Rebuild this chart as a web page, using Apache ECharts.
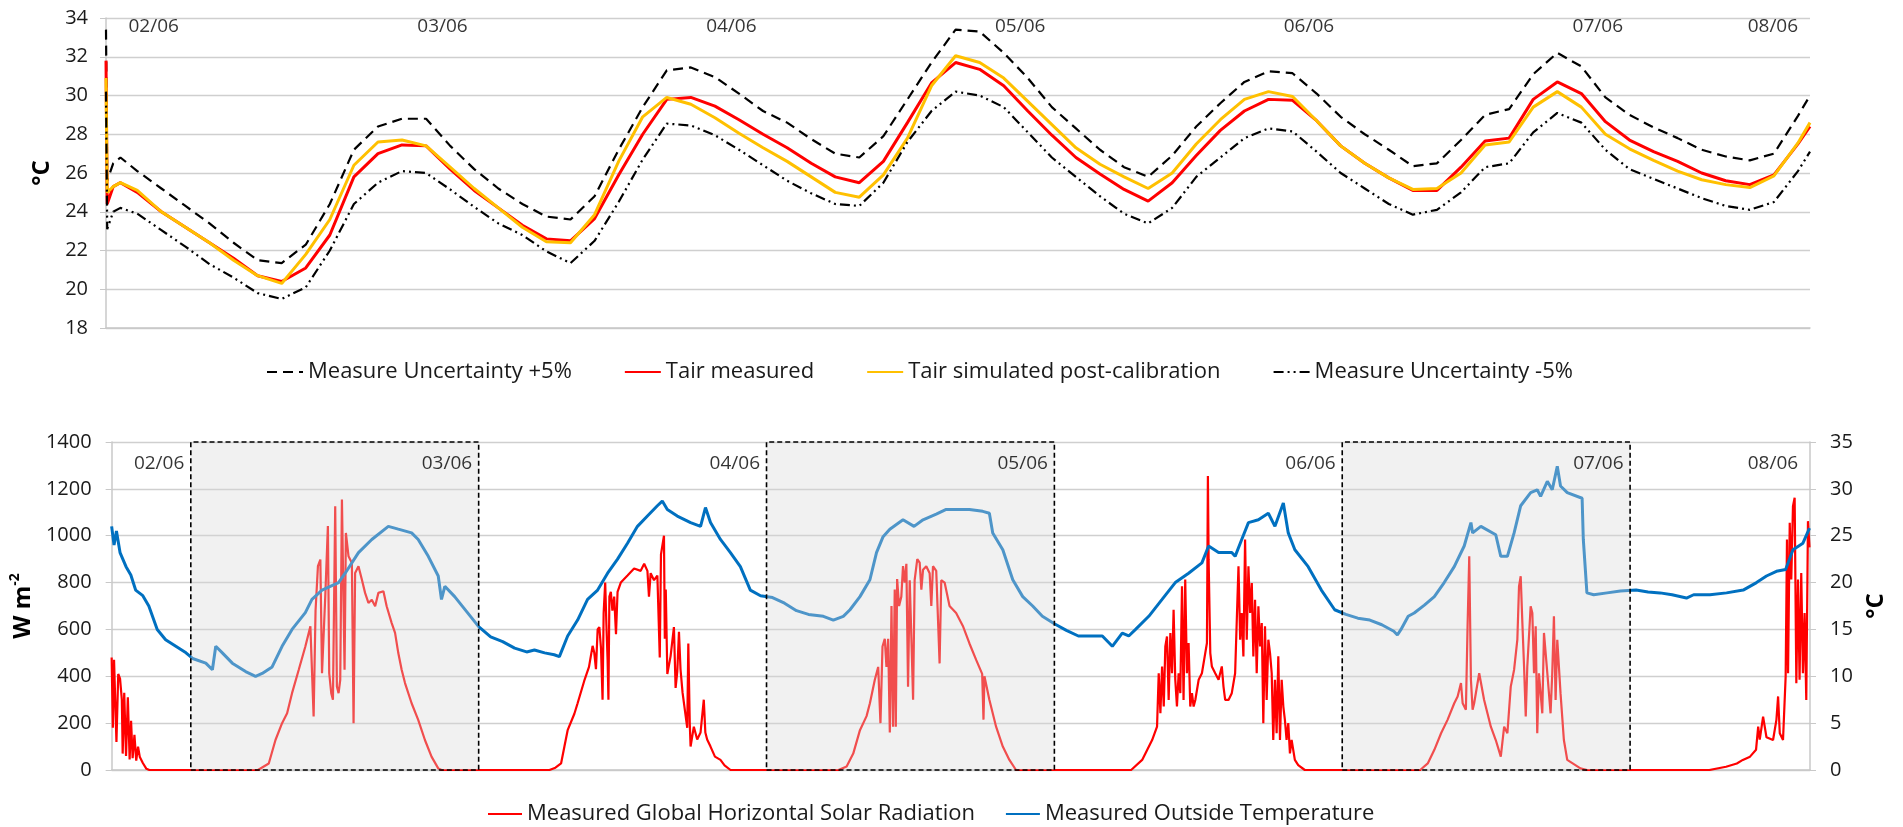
<!DOCTYPE html>
<html>
<head>
<meta charset="utf-8">
<title>Tair calibration and outside conditions</title>
<script src="https://cdn.jsdelivr.net/npm/echarts@6/dist/echarts.min.js"></script>
<style>
  html, body { margin: 0; padding: 0; background: #fff; }
  #container { width: 1903px; height: 827px; }
</style>
</head>
<body>
<div id="container"></div>
<script>
// time in hours, 0 = midnight between 01/06 and 02/06
var tHours = [-6.6, -6.5, -6, -5.4, -4, -2,
  0, 2, 4, 6, 8, 10, 12, 14, 16, 18, 20, 22,
  24, 26, 28, 30, 32, 34, 36, 38, 40, 42, 44, 46,
  48, 50, 52, 54, 56, 58, 60, 62, 64, 66, 68, 70,
  72, 74, 76, 78, 80, 82, 84, 86, 88, 90, 92, 94,
  96, 98, 100, 102, 104, 106, 108, 110, 112, 114, 116, 118,
  120, 122, 124, 126, 128, 130, 132, 134, 135];

var tairMeasured = [31.8, 24.4, 25.3, 25.5, 25.0, 24.0,
  23.2, 22.4, 21.6, 20.7, 20.4, 21.1, 22.8, 25.8, 27.0, 27.45, 27.4, 26.2,
  25.1, 24.2, 23.3, 22.6, 22.5, 23.65, 25.9, 28.0, 29.8, 29.9, 29.45, 28.75,
  28.0, 27.3, 26.5, 25.8, 25.5, 26.6, 28.6, 30.65, 31.7, 31.35, 30.5, 29.2,
  27.95, 26.8, 25.95, 25.15, 24.55, 25.5, 26.9, 28.2, 29.2, 29.8, 29.75, 28.7,
  27.4, 26.5, 25.75, 25.1, 25.1, 26.3, 27.65, 27.8, 29.8, 30.7, 30.1, 28.65,
  27.7, 27.1, 26.6, 26.0, 25.6, 25.4, 25.9, 27.5, 28.4];

var tairSimulated = [30.9, 25.0, 25.3, 25.5, 25.1, 24.0,
  23.2, 22.4, 21.5, 20.7, 20.3, 21.8, 23.6, 26.4, 27.6, 27.7, 27.4, 26.3,
  25.2, 24.2, 23.2, 22.45, 22.4, 23.85, 26.6, 28.9, 29.9, 29.55, 28.85, 28.05,
  27.3, 26.6, 25.8, 25.0, 24.75, 25.9, 27.8, 30.5, 32.05, 31.7, 30.9, 29.7,
  28.5, 27.3, 26.45, 25.8, 25.2, 26.0, 27.5, 28.75, 29.8, 30.2, 29.95, 28.7,
  27.4, 26.5, 25.75, 25.15, 25.2, 26.0, 27.45, 27.6, 29.4, 30.2, 29.4, 28.0,
  27.25, 26.65, 26.1, 25.65, 25.4, 25.25, 25.85, 27.55, 28.6];

var uncertaintyPlus = [33.4, 25.6, 26.5, 26.8, 26.1, 25.2,
  24.3, 23.4, 22.4, 21.5, 21.35, 22.3, 24.4, 27.2, 28.4, 28.8, 28.8, 27.4,
  26.2, 25.2, 24.4, 23.75, 23.6, 24.8, 27.2, 29.4, 31.3, 31.45, 30.95, 30.1,
  29.2, 28.6, 27.75, 27.0, 26.8, 27.9, 29.8, 31.7, 33.4, 33.3, 32.2, 30.9,
  29.4, 28.3, 27.2, 26.3, 25.8, 26.9, 28.4, 29.6, 30.7, 31.25, 31.15, 30.1,
  28.9, 28.0, 27.2, 26.35, 26.5, 27.7, 29.0, 29.3, 31.1, 32.2, 31.5, 29.9,
  29.0, 28.35, 27.8, 27.2, 26.85, 26.65, 27.0, 28.95, 30.0];

var uncertaintyMinus = [30.2, 23.1, 24.0, 24.2, 23.9, 23.05,
  22.2, 21.3, 20.6, 19.8, 19.5, 20.1, 22.0, 24.4, 25.5, 26.1, 26.0, 25.15,
  24.25, 23.4, 22.8, 21.95, 21.35, 22.5, 24.5, 26.7, 28.55, 28.45, 27.95, 27.2,
  26.4, 25.6, 24.95, 24.4, 24.3, 25.5, 27.6, 29.2, 30.2, 30.0, 29.4, 28.1,
  26.8, 25.8, 24.8, 23.9, 23.4, 24.2, 25.8, 26.8, 27.8, 28.3, 28.15, 27.1,
  26.0, 25.2, 24.4, 23.85, 24.1, 25.0, 26.3, 26.5, 28.1, 29.1, 28.6, 27.2,
  26.2, 25.7, 25.2, 24.7, 24.3, 24.1, 24.5, 26.1, 27.1];

// [hour, W m-2]
var solarRadiation = [
  [-6.6, 480], [-6.5, 180], [-6.4, 470], [-6.2, 120], [-6.05, 410], [-5.9, 390], [-5.75, 300], [-5.68, 70],
  [-5.55, 330], [-5.4, 60], [-5.25, 310], [-5.1, 45], [-4.98, 210], [-4.85, 50], [-4.7, 150], [-4.55, 40],
  [-4.4, 100], [-4.25, 55], [-4.0, 30], [-3.7, 5], [-3.45, 0],
  [5.6, 0], [6.5, 28], [7.06, 128], [7.61, 200], [8.03, 242], [8.44, 328], [9.0, 428], [9.55, 527],
  [9.97, 613], [10.24, 228], [10.4, 680], [10.6, 870], [10.8, 898], [10.94, 413], [11.21, 740], [11.43, 1041],
  [11.54, 413], [11.71, 328], [11.85, 300], [12.04, 1126], [12.18, 356], [12.32, 328], [12.46, 385], [12.6, 1155],
  [12.74, 1162], [12.82, 428], [12.93, 1012], [13.15, 912], [13.43, 884], [13.57, 200], [13.7, 841], [13.98, 870],
  [14.26, 813], [14.53, 756], [14.81, 713], [15.09, 727], [15.37, 699], [15.64, 756], [16.06, 763], [16.33, 699],
  [16.75, 627], [17.03, 585], [17.3, 499], [17.58, 428], [17.86, 371], [18.41, 285], [18.96, 214], [19.52, 128],
  [20.07, 57], [20.63, 7], [20.9, 0],
  [29.9, 0], [30.4, 10], [30.87, 28], [31.15, 100], [31.42, 170], [31.98, 240], [32.25, 285], [32.8, 380],
  [33.2, 440], [33.5, 530], [33.64, 500], [33.78, 430], [33.92, 600], [34.06, 610], [34.2, 520], [34.33, 300],
  [34.42, 670], [34.55, 800], [34.65, 620], [34.75, 470], [34.82, 300], [34.9, 740], [35.02, 760], [35.15, 680],
  [35.3, 740], [35.45, 580], [35.58, 760], [35.85, 800], [36.41, 830], [36.96, 860], [37.51, 850], [37.8, 880],
  [38.07, 850], [38.2, 740], [38.34, 840], [38.62, 810], [38.9, 830], [39.1, 480], [39.2, 920], [39.45, 1000],
  [39.52, 560], [39.6, 770], [39.73, 410], [40.0, 485], [40.28, 610], [40.42, 350], [40.56, 420], [40.7, 590],
  [40.83, 430], [41.0, 330], [41.39, 180], [41.48, 540], [41.6, 200], [41.67, 100], [41.94, 185], [42.22, 130],
  [42.5, 160], [42.77, 300], [42.9, 160], [43.05, 130], [43.33, 100], [43.7, 57], [44.16, 43], [44.5, 20], [45.0, 0],
  [54.0, 0], [54.68, 15], [55.23, 70], [55.79, 170], [56.34, 230], [56.62, 285], [57.03, 385], [57.31, 440],
  [57.5, 200], [57.67, 527], [57.86, 560], [58.0, 440], [58.14, 560], [58.28, 160], [58.42, 700], [58.55, 185],
  [58.69, 770], [58.78, 185], [58.89, 815], [59.05, 700], [59.24, 740], [59.38, 870], [59.52, 800], [59.66, 880],
  [59.8, 355], [59.94, 810], [60.08, 560], [60.22, 300], [60.35, 810], [60.57, 900], [60.77, 885], [60.91, 770],
  [61.05, 855], [61.32, 870], [61.6, 840], [61.74, 700], [61.88, 870], [62.15, 850], [62.3, 855], [62.43, 455],
  [62.57, 810], [62.85, 800], [63.26, 700], [63.81, 670], [64.37, 615], [64.92, 540], [65.48, 470], [65.98, 410],
  [66.09, 215], [66.17, 400], [66.58, 300], [67.14, 185], [67.7, 100], [68.25, 43], [68.8, 0],
  [78.4, 0], [79.32, 43], [80.15, 128], [80.56, 185], [80.7, 413], [80.84, 242], [80.98, 442], [81.12, 271],
  [81.25, 527], [81.39, 570], [81.53, 299], [81.67, 585], [81.81, 413], [81.94, 684], [82.08, 385], [82.22, 271],
  [82.36, 413], [82.5, 328], [82.64, 784], [82.77, 299], [82.91, 813], [83.05, 413], [83.19, 542], [83.33, 271],
  [83.47, 328], [83.61, 271], [83.75, 299], [84.03, 385], [84.3, 413], [84.58, 499], [84.72, 542], [84.8, 1255],
  [84.86, 900], [85.0, 499], [85.13, 442], [85.41, 413], [85.69, 385], [85.96, 442], [86.1, 356], [86.24, 299],
  [86.52, 299], [86.79, 328], [87.07, 413], [87.21, 642], [87.35, 870], [87.49, 556], [87.62, 670], [87.76, 485],
  [87.9, 984], [88.04, 556], [88.18, 870], [88.32, 670], [88.46, 798], [88.59, 485], [88.73, 727], [88.87, 413],
  [89.01, 699], [89.15, 527], [89.29, 627], [89.42, 200], [89.56, 613], [89.7, 299], [89.84, 556], [89.98, 499],
  [90.12, 413], [90.25, 128], [90.39, 385], [90.53, 157], [90.67, 485], [90.81, 128], [90.95, 385], [91.09, 271],
  [91.22, 214], [91.36, 128], [91.5, 200], [91.64, 71], [91.78, 128], [92.05, 43], [92.33, 21], [92.88, 0],
  [102.5, 0], [103.13, 28], [103.68, 86], [104.24, 157], [104.78, 214], [105.34, 285], [105.62, 314], [105.9, 371],
  [106.04, 285], [106.31, 257], [106.45, 613], [106.59, 912], [106.73, 385], [106.87, 257], [107.0, 285], [107.42, 413],
  [107.83, 299], [108.39, 185], [108.8, 128], [109.22, 57], [109.5, 185], [109.77, 157], [110.05, 356], [110.33, 428],
  [110.6, 556], [110.74, 784], [110.88, 827], [111.02, 627], [111.16, 442], [111.3, 228], [111.43, 442], [111.71, 699],
  [111.85, 670], [111.99, 413], [112.13, 613], [112.26, 157], [112.4, 413], [112.68, 242], [112.82, 585], [113.1, 413],
  [113.37, 242], [113.51, 413], [113.65, 656], [113.79, 299], [113.93, 556], [114.2, 328], [114.48, 128], [114.76, 43],
  [115.86, 7], [116.4, 0],
  [126.6, 0], [128.0, 14], [128.9, 28], [129.4, 43], [130.0, 57], [130.5, 86], [130.68, 185], [130.81, 130],
  [131.09, 228], [131.37, 140], [131.92, 128], [132.2, 214], [132.34, 314], [132.48, 157], [132.75, 128], [132.97, 399],
  [133.08, 984], [133.17, 413], [133.31, 1055], [133.44, 813], [133.58, 1126], [133.72, 1162], [133.86, 370], [134.0, 813],
  [134.13, 385], [134.27, 841], [134.41, 413], [134.55, 670], [134.69, 299], [134.83, 1062], [134.96, 950]
];

// [hour, degC]
var outsideTemp = [
  [-6.6, 26.0], [-6.4, 24.0], [-6.2, 25.5], [-5.9, 23.2], [-5.4, 21.7], [-5.0, 20.8], [-4.6, 19.2], [-4.0, 18.6],
  [-3.5, 17.5], [-2.8, 15.0], [-2.1, 13.9], [-1.25, 13.2], [-0.4, 12.5], [0.15, 11.9], [1.25, 11.4], [1.8, 10.7],
  [2.08, 13.2], [2.63, 12.5], [3.46, 11.4], [4.57, 10.5], [5.4, 10.0], [5.95, 10.3], [6.78, 11.0], [7.61, 13.2],
  [8.44, 15.0], [9.55, 16.8], [10.1, 18.2], [10.94, 19.2], [12.32, 20.0], [12.87, 21.0], [13.98, 23.2], [15.09, 24.6],
  [16.47, 26.0], [17.3, 25.7], [18.41, 25.3], [18.96, 24.6], [19.8, 22.8], [20.63, 20.7], [20.9, 18.2], [21.18, 19.6],
  [22.0, 18.5], [23.0, 16.9], [24.0, 15.3], [25.0, 14.2], [26.0, 13.7], [27.0, 13.0], [28.0, 12.6], [28.65, 12.8],
  [29.5, 12.5], [30.3, 12.3], [30.73, 12.1], [31.42, 14.3], [32.25, 16.0], [33.08, 18.2], [33.92, 19.2], [34.75, 21.0],
  [35.58, 22.5], [36.41, 24.2], [37.24, 26.0], [38.07, 27.1], [38.9, 28.2], [39.31, 28.7], [39.73, 27.8], [40.56, 27.1],
  [41.67, 26.4], [42.5, 26.0], [42.91, 28.0], [43.33, 26.4], [44.16, 24.6], [44.99, 23.2], [45.82, 21.7], [46.65, 19.2],
  [47.5, 18.6], [48.5, 18.4], [49.5, 17.8], [50.5, 17.0], [51.5, 16.6], [52.74, 16.4], [53.57, 16.0], [54.4, 16.4],
  [54.96, 17.1], [55.79, 18.5], [56.62, 20.3], [57.17, 23.2], [57.72, 24.9], [58.28, 25.7], [59.38, 26.7], [60.3, 26.0],
  [61.05, 26.7], [62.15, 27.3], [62.98, 27.8], [63.81, 27.8], [64.92, 27.8], [66.03, 27.6], [66.58, 27.4], [66.86, 25.3],
  [67.7, 23.5], [68.53, 20.3], [69.36, 18.5], [70.19, 17.5], [71.0, 16.4], [72.0, 15.6], [73.0, 14.9], [74.0, 14.3],
  [75.0, 14.3], [76.0, 14.3], [76.83, 13.2], [77.66, 14.6], [78.2, 14.3], [78.77, 15.0], [79.87, 16.4], [80.98, 18.2],
  [82.08, 20.0], [83.19, 21.0], [84.3, 22.1], [84.86, 23.9], [85.69, 23.2], [86.79, 23.2], [87.07, 22.8], [87.62, 24.6],
  [88.18, 26.4], [89.01, 26.7], [89.84, 27.4], [90.39, 26.0], [91.09, 28.5], [91.5, 25.3], [92.05, 23.5], [93.16, 21.7],
  [94.26, 19.2], [95.37, 17.1], [96.3, 16.6], [97.3, 16.2], [98.3, 16.0], [99.3, 15.5], [100.3, 14.8], [100.6, 14.4],
  [100.9, 15.0], [101.5, 16.4], [102.0, 16.75], [102.85, 17.6], [103.68, 18.5], [104.5, 20.0], [105.34, 21.7], [106.17, 23.9],
  [106.73, 26.4], [106.87, 25.3], [107.56, 26.0], [108.8, 25.1], [109.22, 22.8], [109.77, 22.8], [110.33, 25.3], [110.88, 28.2],
  [111.71, 29.6], [112.26, 29.9], [112.54, 29.2], [113.1, 30.8], [113.51, 29.9], [113.93, 32.4], [114.2, 30.3], [114.76, 29.6],
  [116.0, 29.0], [116.1, 24.6], [116.4, 18.9], [116.97, 18.7], [118.08, 18.9], [119.19, 19.1], [120.5, 19.2], [121.5, 19.0],
  [122.5, 18.9], [123.5, 18.7], [124.7, 18.35], [125.3, 18.7], [126.66, 18.7], [128.04, 18.9], [129.43, 19.2], [130.54, 20.0],
  [131.37, 20.7], [132.2, 21.2], [132.97, 21.4], [133.58, 23.5], [134.41, 24.2], [134.96, 25.8]
];

var dayLabels = ['02/06', '03/06', '04/06', '05/06', '06/06', '07/06', '08/06'];
var dayLabelHours = [0, 24, 48, 72, 96, 120, 134.55];
var shadedDays = [[0, 24], [48, 72], [96, 120]];

var FONT = 'Open Sans';
var dom = document.getElementById('container');
var myChart = echarts.init(dom);

function pairs(xs, ys) {
  return xs.map(function (x, i) { return [x, ys[i]]; });
}
function labelPoints(y) {
  return dayLabels.map(function (d, i) { return { name: d, value: [dayLabelHours[i], y] }; });
}
function plainNumber(v) { return String(v); }

var gridLine = { lineStyle: { color: '#cfcfcf', width: 1.3 } };
var grayLine = { color: '#c8c8c8', width: 1.5 };
var tickLabel = { fontSize: 20, fontFamily: FONT, color: '#1a1a1a', formatter: plainNumber };
var nameStyle = { fontSize: 24, fontWeight: 'bold', fontFamily: FONT, color: '#000' };
var legendText = { fontSize: 22, fontFamily: FONT, color: '#1a1a1a' };

var option = {
  animation: false,
  backgroundColor: '#fff',
  grid: [
    { left: 106, right: 93, top: 18, height: 310 },
    { left: 106, right: 93, top: 442, height: 328 }
  ],
  xAxis: [
    { type: 'value', gridIndex: 0, min: -6.6, max: 135, axisLine: { onZero: false, lineStyle: grayLine },
      axisTick: { show: false }, axisLabel: { show: false }, splitLine: { show: false } },
    { type: 'value', gridIndex: 1, min: -6.6, max: 135, axisLine: { onZero: false, lineStyle: grayLine },
      axisTick: { show: false }, axisLabel: { show: false }, splitLine: { show: false } }
  ],
  yAxis: [
    { type: 'value', gridIndex: 0, min: 18, max: 34, interval: 2,
      axisLine: { show: true, onZero: false, lineStyle: grayLine },
      axisTick: { show: true, length: 6, lineStyle: { color: '#c8c8c8' } },
      axisLabel: Object.assign({ margin: 18 }, tickLabel), splitLine: gridLine,
      name: '°C', nameLocation: 'middle', nameRotate: 90, nameGap: 50, nameTextStyle: nameStyle },
    { type: 'value', gridIndex: 1, min: 0, max: 1400, interval: 200,
      axisLine: { show: true, onZero: false, lineStyle: grayLine },
      axisTick: { show: true, length: 6, lineStyle: { color: '#c8c8c8' } },
      axisLabel: Object.assign({ margin: 20 }, tickLabel), splitLine: gridLine,
      name: '{m|W m}{s|-2}', nameLocation: 'middle', nameRotate: 90, nameGap: 72,
      nameTextStyle: Object.assign({ rich: {
        m: { fontSize: 24, fontWeight: 'bold', fontFamily: FONT, color: '#000', lineHeight: 30 },
        s: { fontSize: 14, fontWeight: 'bold', fontFamily: FONT, color: '#000', verticalAlign: 'top', lineHeight: 30 }
      } }, nameStyle) },
    { type: 'value', gridIndex: 1, position: 'right', min: 0, max: 35, interval: 5,
      axisLine: { show: true, onZero: false, lineStyle: grayLine },
      axisTick: { show: true, length: 6, lineStyle: { color: '#c8c8c8' } },
      axisLabel: Object.assign({ margin: 20 }, tickLabel), splitLine: { show: false },
      name: '°C', nameLocation: 'middle', nameRotate: 90, nameGap: 52, nameTextStyle: nameStyle }
  ],
  legend: [
    { data: ['Measure Uncertainty +5%', 'Tair measured', 'Tair simulated post-calibration', 'Measure Uncertainty -5%'],
      left: 261, top: 356, itemWidth: 36, itemHeight: 14, itemGap: 52,
      itemStyle: { opacity: 0 }, textStyle: legendText },
    { data: ['Measured Global Horizontal Solar Radiation', 'Measured Outside Temperature'],
      left: 482, top: 798, itemWidth: 34, itemHeight: 14, itemGap: 30,
      itemStyle: { opacity: 0 }, textStyle: legendText }
  ],
  series: [
    { name: 'Measure Uncertainty +5%', type: 'line', xAxisIndex: 0, yAxisIndex: 0, showSymbol: false, symbol: 'none',
      data: pairs(tHours, uncertaintyPlus), lineStyle: { color: '#000', width: 2.2, type: [10, 6] }, itemStyle: { color: '#000' } },
    { name: 'Tair measured', type: 'line', xAxisIndex: 0, yAxisIndex: 0, showSymbol: false, symbol: 'none',
      data: pairs(tHours, tairMeasured), lineStyle: { color: '#ff0000', width: 3 }, itemStyle: { color: '#ff0000' } },
    { name: 'Tair simulated post-calibration', type: 'line', xAxisIndex: 0, yAxisIndex: 0, showSymbol: false, symbol: 'none',
      data: pairs(tHours, tairSimulated), lineStyle: { color: '#ffc000', width: 3 }, itemStyle: { color: '#ffc000' } },
    { name: 'Measure Uncertainty -5%', type: 'line', xAxisIndex: 0, yAxisIndex: 0, showSymbol: false, symbol: 'none',
      data: pairs(tHours, uncertaintyMinus), lineStyle: { color: '#000', width: 2.2, type: [10, 4, 2, 4, 2, 4] }, itemStyle: { color: '#000' } },
    { name: 'daysTop', type: 'scatter', xAxisIndex: 0, yAxisIndex: 0, symbolSize: 1, silent: true, z: 5,
      itemStyle: { color: 'rgba(0,0,0,0)' }, data: labelPoints(33.54),
      label: { show: true, position: 'left', distance: 6, formatter: '{b}', fontSize: 19, fontFamily: FONT, color: '#000' } },

    { name: 'Measured Global Horizontal Solar Radiation', type: 'line', xAxisIndex: 1, yAxisIndex: 1, showSymbol: false, symbol: 'none',
      data: solarRadiation, lineStyle: { color: '#ff0000', width: 2.2 }, itemStyle: { color: '#ff0000' } },
    { name: 'Measured Outside Temperature', type: 'line', xAxisIndex: 1, yAxisIndex: 2, showSymbol: false, symbol: 'none',
      data: outsideTemp, lineStyle: { color: '#0070c0', width: 3 }, itemStyle: { color: '#0070c0' } },
    { name: 'shade', type: 'line', xAxisIndex: 1, yAxisIndex: 1, symbol: 'none', silent: true, z: 10,
      data: [[-6.6, 0]], lineStyle: { opacity: 0 },
      markArea: { silent: true, z: 10,
        itemStyle: { color: 'rgba(217,217,217,0.36)', borderColor: '#000', borderWidth: 1.6, borderType: [5, 3] },
        data: shadedDays.map(function (d) { return [{ xAxis: d[0], yAxis: 0 }, { xAxis: d[1], yAxis: 1400 }]; }) } },
    { name: 'daysBottom', type: 'scatter', xAxisIndex: 1, yAxisIndex: 1, symbolSize: 1, silent: true, z: 12,
      itemStyle: { color: 'rgba(0,0,0,0)' }, data: labelPoints(1306),
      label: { show: true, position: 'left', distance: 6, formatter: '{b}', fontSize: 19, fontFamily: FONT, color: '#000' } }
  ]
};
myChart.setOption(option);
</script>
</body>
</html>
